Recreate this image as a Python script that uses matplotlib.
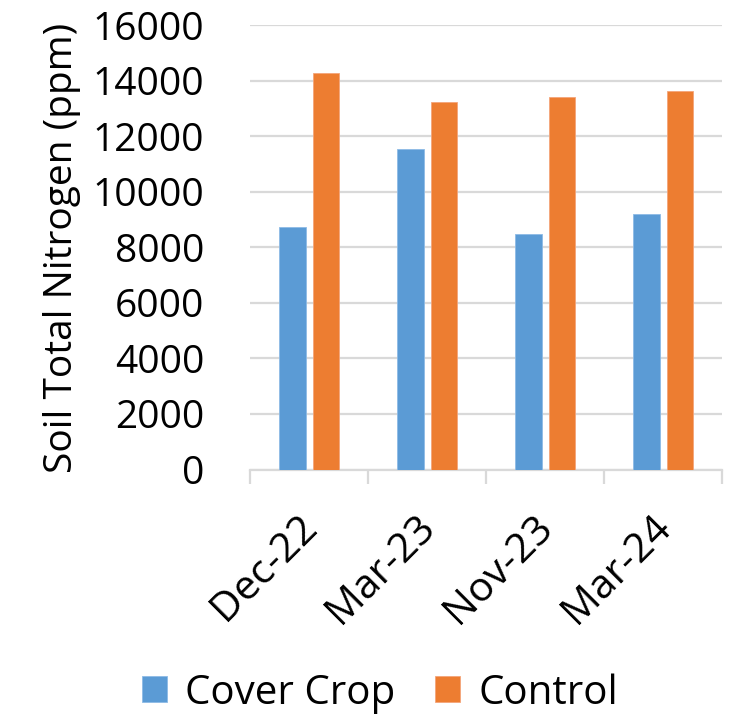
import matplotlib.pyplot as plt
import matplotlib.transforms as mtransforms
import numpy as np

plt.rcParams["font.family"] = ["Open Sans", "DejaVu Sans"]

# sampling dates and soil total nitrogen (ppm)
dates = ["Dec-22", "Mar-23", "Nov-23", "Mar-24"]
cover_crop = [8740, 11530, 8470, 9200]
control = [14290, 13240, 13410, 13620]

blue = "#5B9BD5"
orange = "#ED7D31"
grid_grey = "#D9D9D9"

fig = plt.figure(figsize=(7.38, 7.21), dpi=100)
ax = fig.add_axes([0.3388, 0.3488, 0.6396, 0.6161])

x = np.arange(len(dates))
w = 0.225
off = 0.142
ax.bar(x - off, cover_crop, width=w, color=blue, edgecolor="#8DBBE6",
       linewidth=0.6, label="Cover Crop", zorder=3)
ax.bar(x + off, control, width=w, color=orange, edgecolor="#F4A57A",
       linewidth=0.6, label="Control", zorder=3)

ax.set_xlim(-0.5, len(dates) - 0.5)
ax.set_ylim(0, 16000)
ax.set_yticks(np.arange(0, 16001, 2000))
ax.yaxis.grid(True, color=grid_grey, linewidth=1.6, zorder=0)
ax.set_axisbelow(True)

for s in ["top", "right", "left"]:
    ax.spines[s].set_visible(False)
ax.spines["bottom"].set_color(grid_grey)
ax.spines["bottom"].set_linewidth(1.6)

fs = 28
ax.tick_params(axis="y", length=0, pad=33, labelsize=fs)
# category separators below the axis
ax.set_xticks(np.arange(len(dates) + 1) - 0.5, minor=True)
ax.tick_params(axis="x", which="minor", length=10, width=1.6, color=grid_grey)
ax.set_xticks(x)
ax.set_xticklabels(dates, rotation=45, ha="right", rotation_mode="anchor",
                   fontsize=29.5)
ax.tick_params(axis="x", which="major", length=0, pad=27)
shift = mtransforms.ScaledTranslation(-12 / 100, 0, fig.dpi_scale_trans)
for lab in ax.get_xticklabels():
    lab.set_transform(lab.get_transform() + shift)

ax.set_ylabel("Soil Total Nitrogen (ppm)", fontsize=fs, labelpad=8)

fig.legend(loc="lower center", bbox_to_anchor=(0.515, -0.04), ncol=2,
           frameon=False, fontsize=29, handlelength=0.62, handleheight=0.62,
           handletextpad=0.45, columnspacing=1.0)

fig.savefig("out.png", dpi=100)
